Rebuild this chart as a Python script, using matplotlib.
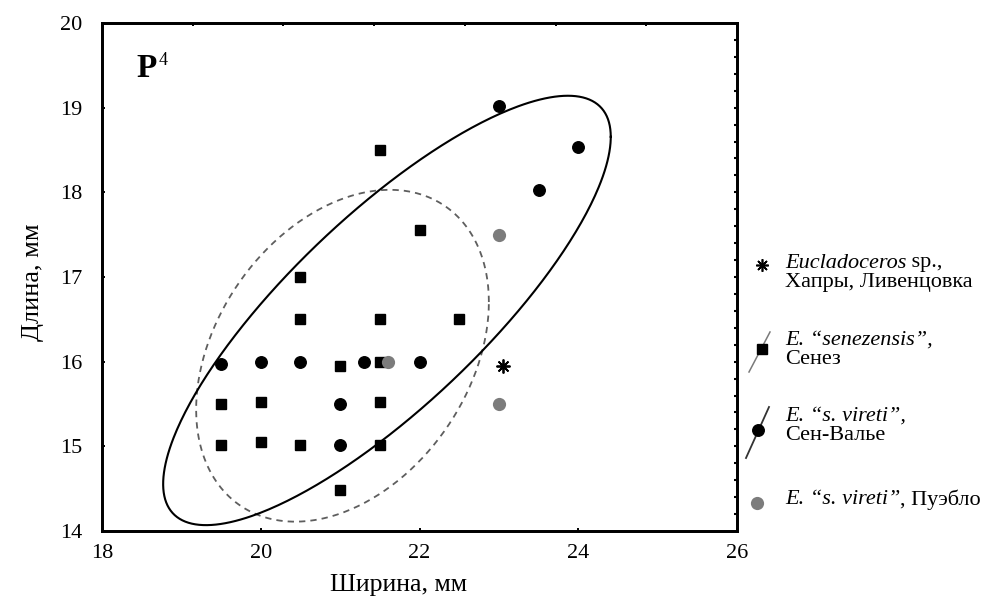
import numpy as np
import matplotlib
matplotlib.use("Agg")
import matplotlib.pyplot as plt
from matplotlib.lines import Line2D

plt.rcParams['font.family'] = ['Liberation Serif', 'DejaVu Serif']

# ---------------- data ----------------
# E. "senezensis", Сенез (squares)
sen_x = [21.5, 22.0, 20.5, 20.5, 21.5, 22.5, 19.5, 20.0, 21.5, 21.0, 21.5, 19.5, 20.0, 20.5, 21.5, 21.0]
sen_y = [18.5, 17.55, 17.0, 16.5, 16.5, 16.5, 15.5, 15.52, 15.52, 15.95, 16.0, 15.02, 15.05, 15.02, 15.02, 14.48]
# E. "s. vireti", Сен-Валье (black circles)
vir_x = [19.5, 20.0, 20.5, 21.0, 21.0, 21.3, 22.0, 23.0, 24.0, 23.5]
vir_y = [15.97, 16.0, 16.0, 15.5, 15.02, 16.0, 16.0, 19.02, 18.53, 18.03]
# E. "s. vireti", Пуэбло (grey circles)
pue_x = [23.0, 21.6, 23.0]
pue_y = [17.5, 16.0, 15.5]
# Eucladoceros sp., Хапры, Ливенцовка
euc_x = [23.05]
euc_y = [15.95]

# ellipses: centre and second-moment terms (xx, yy, xy)
solid_center = [21.59, 16.605]
solid_moments = [7.95, 6.43, 5.78]
dashed_center = [21.03, 16.07]
dashed_moments = [3.40, 3.84, 1.17]

x_ticks = [18, 20, 22, 24, 26]
y_ticks = [14, 15, 16, 17, 18, 19, 20]

# ---------------- figure ----------------
W, H = 991, 599
fig = plt.figure(figsize=(W / 100, H / 100), dpi=100)
ax = fig.add_axes([102 / W, 1 - 531 / H, 635 / W, 508 / H])


def ellipse_xy(center, moments, n=400):
    sxx, syy, sxy = moments
    S = np.array([[sxx, sxy], [sxy, syy]])
    L = np.linalg.cholesky(S)
    t = np.linspace(0, 2 * np.pi, n)
    pts = L @ np.vstack([np.cos(t), np.sin(t)])
    return center[0] + pts[0], center[1] + pts[1]


ex, ey = ellipse_xy(dashed_center, dashed_moments)
ax.plot(ex, ey, color='#5e5e5e', lw=1.3, ls=(0, (3.5, 2.8)), zorder=2)
ex, ey = ellipse_xy(solid_center, solid_moments)
ax.plot(ex, ey, color='black', lw=1.5, zorder=2)

ax.plot(sen_x, sen_y, ls='none', marker='s', ms=6.5, color='black', zorder=4)
ax.plot(vir_x, vir_y, ls='none', marker='o', ms=8.3, color='black', zorder=4)
ax.plot(pue_x, pue_y, ls='none', marker='o', ms=9.5, color='#7c7c7c', mec='none', zorder=5)
ax.plot(euc_x, euc_y, ls='none', marker=(8, 2, 0), ms=10, mew=1.3, color='black', zorder=4)

ax.set_xlim(18, 26)
ax.set_ylim(14, 20)
ax.set_xticks(x_ticks)
ax.set_yticks(y_ticks)
ax.tick_params(which='major', direction='in', length=2.5, width=1.4, labelsize=16,
               color='black', top=False, right=False)
ax.tick_params(axis='y', pad=14)
ax.tick_params(axis='x', pad=9)
for sp in ax.spines.values():
    sp.set_linewidth(1.8)

ax.set_xlabel('Ширина, мм', fontsize=18.5)
ax.set_ylabel('Длина, мм', fontsize=19)
ax.xaxis.set_label_coords((398 - 102) / 635, -0.084)
ax.yaxis.set_label_coords(-0.092, 0.49)

# odd tick placement of top and right frames
ax_t = ax.twiny()
ax_t.set_xlim(0, 7)
ax_t.set_xticks(range(1, 7))
ax_t.tick_params(direction='in', length=2.5, width=1.4, labeltop=False, top=True)
ax_r = ax.twinx()
ax_r.set_ylim(14, 20)
ax_r.set_yticks(np.round(np.arange(14.2, 19.81, 0.2), 1))
ax_r.tick_params(direction='in', length=2.5, width=1.5, labelright=False, right=True)
for a in (ax_t, ax_r):
    for sp in a.spines.values():
        sp.set_linewidth(1.8)

# P^4 label
fig.text(136 / W, 1 - 77 / H, 'P', fontsize=24, fontweight='bold', va='baseline')
fig.text(159 / W, 1 - 65 / H, '4', fontsize=13, va='baseline')

# ---------------- legend ----------------
renderer = fig.canvas.get_renderer()


def seg_width(s, style, size):
    t1 = fig.text(0, 0, '|' + s + '|', fontsize=size, style=style)
    t2 = fig.text(0, 0, '||', fontsize=size, style=style)
    w = t1.get_window_extent(renderer).width - t2.get_window_extent(renderer).width
    t1.remove()
    t2.remove()
    return w


def rich(x_px, y_px, segments, size=16):
    x = x_px
    for s, style in segments:
        fig.text(x / W, 1 - y_px / H, s, fontsize=size, style=style, va='center', ha='left')
        x += seg_width(s, style, size)


def fig_line(xs, ys, **kw):
    fig.add_artist(Line2D([v / W for v in xs], [1 - v / H for v in ys],
                          transform=fig.transFigure, **kw))


LX = 785
rich(LX, 263, [('Eucladoceros', 'italic'), (' sp.,', 'normal')])
rich(LX, 282, [('Хапры, Ливенцовка', 'normal')])
rich(LX, 340, [('E. “senezensis”,', 'italic')])
rich(LX, 359, [('Сенез', 'normal')])
rich(LX, 416, [('E. “s. vireti”,', 'italic')])
rich(LX, 435, [('Сен-Валье', 'normal')])
rich(LX, 500, [('E. “s. vireti”', 'italic'), (', Пуэбло', 'normal')])

fig_line([762], [265], marker=(8, 2, 0), ms=9, mew=1.2, color='black', ls='none')
fig_line([749, 770], [372, 332], color='#7a7a7a', lw=1.1)
fig_line([762], [349], marker='s', ms=6.5, color='black', ls='none')
fig_line([746, 769], [458, 407], color='#333333', lw=1.3)
fig_line([758], [430], marker='o', ms=8.3, color='black', ls='none')
fig_line([757], [503], marker='o', ms=9.5, color='#7c7c7c', mec='none', ls='none')

fig.savefig('out.png', dpi=100)
